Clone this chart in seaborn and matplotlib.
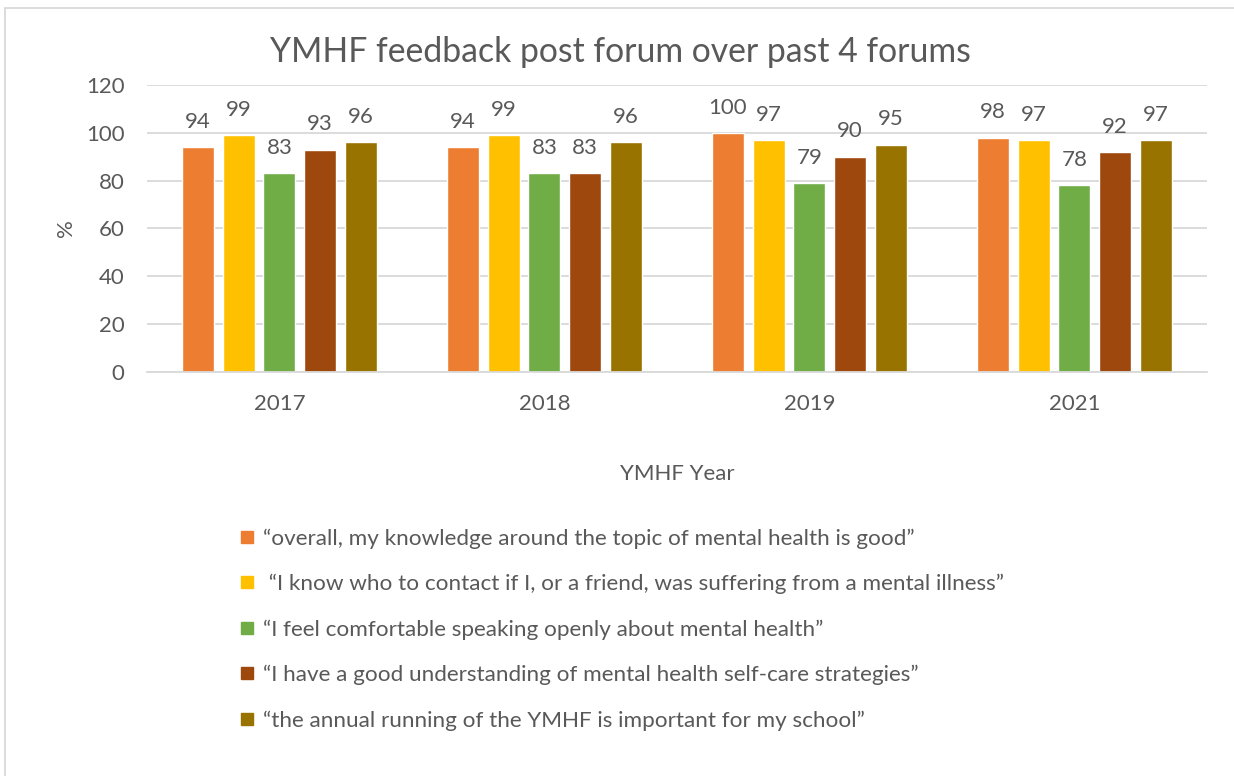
import pandas as pd
import matplotlib.pyplot as plt
import seaborn as sns
from matplotlib.lines import Line2D

years = ["2017", "2018", "2019", "2021"]
statements = [
    "\u201coverall, my knowledge around the topic of mental health is good\u201d",
    " \u201cI know who to contact if I, or a friend, was suffering from a mental illness\u201d",
    "\u201cI feel comfortable speaking openly about mental health\u201d",
    "\u201cI have a good understanding of mental health self-care strategies\u201d",
    "\u201cthe annual running of the YMHF is important for my school\u201d",
]
knowledge = [94, 94, 100, 98]
who_to_contact = [99, 99, 97, 97]
comfortable = [83, 83, 79, 78]
self_care = [93, 83, 90, 92]
annual_running = [96, 96, 95, 97]
colors = ["#ED7D31", "#FFC000", "#70AD47", "#9E480E", "#997300"]

series = [knowledge, who_to_contact, comfortable, self_care, annual_running]
rows = []
for label, values in zip(statements, series):
    for year, v in zip(years, values):
        rows.append({"year": year, "statement": label, "pct": v})
df = pd.DataFrame(rows)

sns.set_style("white")
plt.rcParams["font.family"] = ["Lato", "DejaVu Sans"]
text_color = "#595959"
grid_color = "#D9D9D9"

fig = plt.figure(figsize=(12.34, 7.76), dpi=100)
ax = fig.add_axes([0.119, 0.5206, 0.859, 0.3699])

sns.barplot(data=df, x="year", y="pct", hue="statement", hue_order=statements,
            palette=colors, width=0.768, gap=0.21, ax=ax, legend=False,
            saturation=1, errorbar=None)

for cont in ax.containers:
    ax.bar_label(cont, padding=11, fontsize=16, color=text_color)

ax.set_ylim(0, 120)
ax.set_yticks(range(0, 121, 20))
ax.set_xlim(-0.5, 3.5)
ax.yaxis.grid(True, color=grid_color, linewidth=1.3)
ax.set_axisbelow(True)
for s in ["top", "right", "left"]:
    ax.spines[s].set_visible(False)
ax.spines["bottom"].set_color(grid_color)
ax.spines["bottom"].set_linewidth(1.3)
ax.tick_params(axis="both", length=0, labelsize=16, labelcolor=text_color)
ax.tick_params(axis="y", pad=16)
ax.tick_params(axis="x", pad=16)
ax.set_xlabel("YMHF Year", fontsize=16, color=text_color, labelpad=36)
ax.set_ylabel("%", fontsize=16, color=text_color, labelpad=7)

fig.text(0.503, 0.933, "YMHF feedback post forum over past 4 forums",
         ha="center", va="center", fontsize=24.3, color=text_color)

handles = [Line2D([], [], marker="s", linestyle="none", markersize=9,
                  markerfacecolor=c, markeredgecolor=c) for c in colors]
fig.legend(handles, statements, loc="upper left", bbox_to_anchor=(0.1855, 0.331),
           frameon=False, fontsize=16.2, labelcolor=text_color,
           labelspacing=1.12, handlelength=0.8, handletextpad=0.3,
           borderaxespad=0)

# outer chart border (only left and top visible in the reference)
fig.add_artist(plt.Rectangle((0.004, -0.05), 1.1, 1.04, transform=fig.transFigure,
                             fill=False, edgecolor=grid_color, linewidth=1.3))

fig.savefig("out.png", dpi=100)
